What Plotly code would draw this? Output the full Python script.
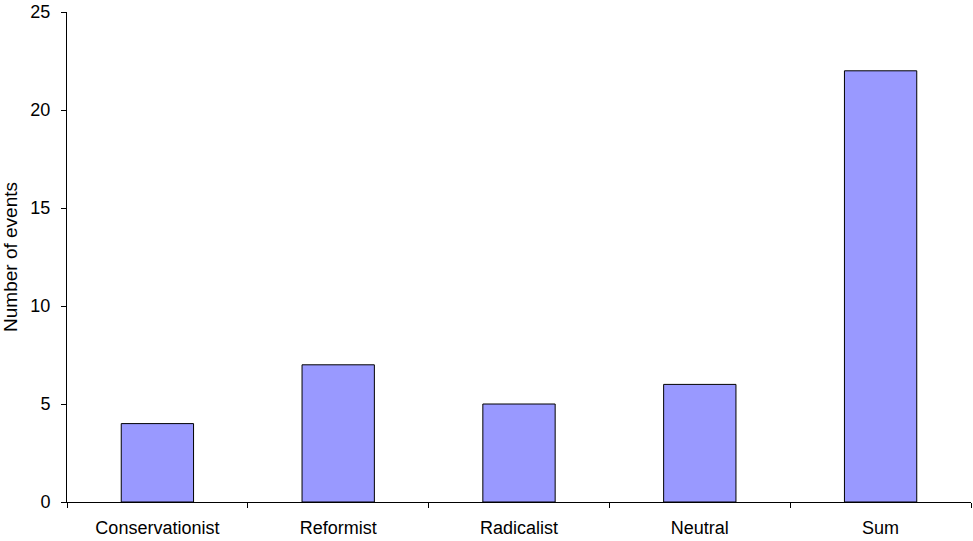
import plotly.graph_objects as go

categories = ["Conservationist", "Reformist", "Radicalist", "Neutral", "Sum"]
events = [4, 7, 5, 6, 22]

fig = go.Figure(
    go.Bar(
        x=categories,
        y=events,
        marker=dict(color="#9999FF", line=dict(color="black", width=1)),
    )
)

font = dict(family="Liberation Sans, Arial, sans-serif", size=18, color="black")

fig.update_layout(
    width=973,
    height=541,
    margin=dict(l=67, r=2, t=12, b=39),
    plot_bgcolor="white",
    paper_bgcolor="white",
    bargap=0.6,
    showlegend=False,
    font=font,
)

fig.update_xaxes(
    type="category",
    showline=True,
    linecolor="black",
    linewidth=1,
    ticks="outside",
    ticklen=5,
    tickcolor="black",
    tickson="boundaries",
    showgrid=False,
    tickfont=font,
    ticklabelstandoff=9,
)

fig.update_yaxes(
    range=[0, 25],
    dtick=5,
    showline=True,
    linecolor="black",
    linewidth=1,
    ticks="outside",
    ticklen=5,
    tickcolor="black",
    showgrid=False,
    zeroline=False,
    tickfont=font,
    ticklabelstandoff=7,
    title=dict(text="Number of events", font=dict(family=font["family"], size=19, color="black"), standoff=7),
)

fig.write_html("out.html")
